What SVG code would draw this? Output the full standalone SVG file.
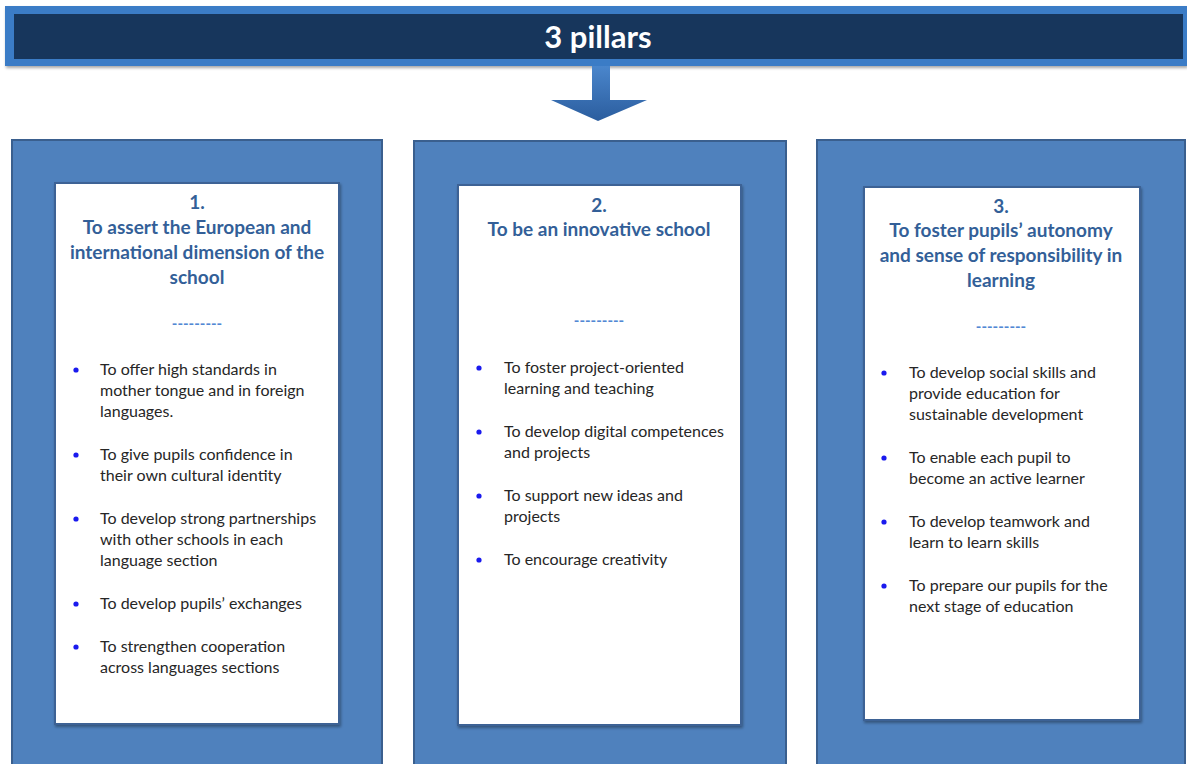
<svg xmlns="http://www.w3.org/2000/svg" width="1187" height="764" viewBox="0 0 1187 764">
<defs>
<linearGradient id="arrowGrad" x1="0" y1="0" x2="0" y2="1">
<stop offset="0" stop-color="#4a86cc"/>
<stop offset="1" stop-color="#2b5d9e"/>
</linearGradient>
<filter id="shadow" x="-5%" y="-5%" width="110%" height="115%">
<feGaussianBlur in="SourceAlpha" stdDeviation="1.5"/>
<feOffset dx="1" dy="2" result="b"/>
<feComponentTransfer><feFuncA type="linear" slope="0.35"/></feComponentTransfer>
<feMerge><feMergeNode/><feMergeNode in="SourceGraphic"/></feMerge>
</filter>
</defs>
<style>
.outer{fill:#4f81bd;stroke:#3a5f8e;stroke-width:2}
.inner{fill:#ffffff;stroke:#3d6295;stroke-width:2}
.title{font-family:Lato,"Open Sans","Liberation Sans",sans-serif;font-weight:bold;font-size:19px;fill:#335f98;text-anchor:middle}
.dash{font-family:Lato,"Liberation Sans",sans-serif;font-weight:bold;font-size:15px;fill:#5288d4;text-anchor:middle}
.body{font-family:Lato,"Open Sans","Liberation Sans",sans-serif;font-size:16px;fill:#262626}
.dot{fill:#1a1aee}
</style>
<rect x="0" y="0" width="1187" height="764" fill="#ffffff"/>

<g id="banner">
<rect x="5" y="6" width="1182" height="60" fill="#3b7bc6" filter="url(#shadow)"/>
<rect x="14" y="14" width="1169" height="45" fill="#17365c"/>
<text x="598" y="48" font-family="Lato,'Open Sans','Liberation Sans',sans-serif" font-weight="bold" font-size="31" fill="#ffffff" text-anchor="middle">3 pillars</text>
</g>

<g id="connectors">
<path d="M592,66 L610,66 L610,100 L647,100 L598,121 L551,100 L592,100 Z" fill="url(#arrowGrad)"/>
</g>

<g id="pillar1">
<rect class="outer" x="12" y="140" width="370" height="630"/>
<rect class="inner" x="55" y="183" width="284" height="541" filter="url(#shadow)"/>
<text class="title" x="197" y="209">1.</text>
<text class="title" x="197" y="234">To assert the European and</text>
<text class="title" x="197" y="259">international dimension of the</text>
<text class="title" x="197" y="284">school</text>
<text class="dash" x="197" y="329">---------</text>
<circle class="dot" cx="76" cy="370" r="2.6"/>
<text class="body" x="100" y="375">To offer high standards in</text>
<text class="body" x="100" y="396">mother tongue and in foreign</text>
<text class="body" x="100" y="417">languages.</text>
<circle class="dot" cx="76" cy="455" r="2.6"/>
<text class="body" x="100" y="460">To give pupils confidence in</text>
<text class="body" x="100" y="481">their own cultural identity</text>
<circle class="dot" cx="76" cy="519" r="2.6"/>
<text class="body" x="100" y="524">To develop strong partnerships</text>
<text class="body" x="100" y="545">with other schools in each</text>
<text class="body" x="100" y="566">language section</text>
<circle class="dot" cx="76" cy="604" r="2.6"/>
<text class="body" x="100" y="609">To develop pupils’ exchanges</text>
<circle class="dot" cx="76" cy="647" r="2.6"/>
<text class="body" x="100" y="652">To strengthen cooperation</text>
<text class="body" x="100" y="673">across languages sections</text>
</g>

<g id="pillar2">
<rect class="outer" x="414" y="141" width="372" height="630"/>
<rect class="inner" x="458" y="185" width="283" height="540" filter="url(#shadow)"/>
<text class="title" x="599" y="212">2.</text>
<text class="title" x="599" y="236">To be an innovative school</text>
<text class="dash" x="599" y="326">---------</text>
<circle class="dot" cx="479" cy="368" r="2.6"/>
<text class="body" x="504" y="373">To foster project-oriented</text>
<text class="body" x="504" y="394">learning and teaching</text>
<circle class="dot" cx="479" cy="432" r="2.6"/>
<text class="body" x="504" y="437">To develop digital competences</text>
<text class="body" x="504" y="458">and projects</text>
<circle class="dot" cx="479" cy="496" r="2.6"/>
<text class="body" x="504" y="501">To support new ideas and</text>
<text class="body" x="504" y="522">projects</text>
<circle class="dot" cx="479" cy="560" r="2.6"/>
<text class="body" x="504" y="565">To encourage creativity</text>
</g>

<g id="pillar3">
<rect class="outer" x="817" y="140" width="368" height="630"/>
<rect class="inner" x="864" y="187" width="276" height="533" filter="url(#shadow)"/>
<text class="title" x="1001" y="213">3.</text>
<text class="title" x="1001" y="237">To foster pupils’ autonomy</text>
<text class="title" x="1001" y="262">and sense of responsibility in</text>
<text class="title" x="1001" y="287">learning</text>
<text class="dash" x="1001" y="332">---------</text>
<circle class="dot" cx="884" cy="373" r="2.6"/>
<text class="body" x="909" y="378">To develop social skills and</text>
<text class="body" x="909" y="399">provide education for</text>
<text class="body" x="909" y="420">sustainable development</text>
<circle class="dot" cx="884" cy="458" r="2.6"/>
<text class="body" x="909" y="463">To enable each pupil to</text>
<text class="body" x="909" y="484">become an active learner</text>
<circle class="dot" cx="884" cy="522" r="2.6"/>
<text class="body" x="909" y="527">To develop teamwork and</text>
<text class="body" x="909" y="548">learn to learn skills</text>
<circle class="dot" cx="884" cy="586" r="2.6"/>
<text class="body" x="909" y="591">To prepare our pupils for the</text>
<text class="body" x="909" y="612">next stage of education</text>
</g>
</svg>
